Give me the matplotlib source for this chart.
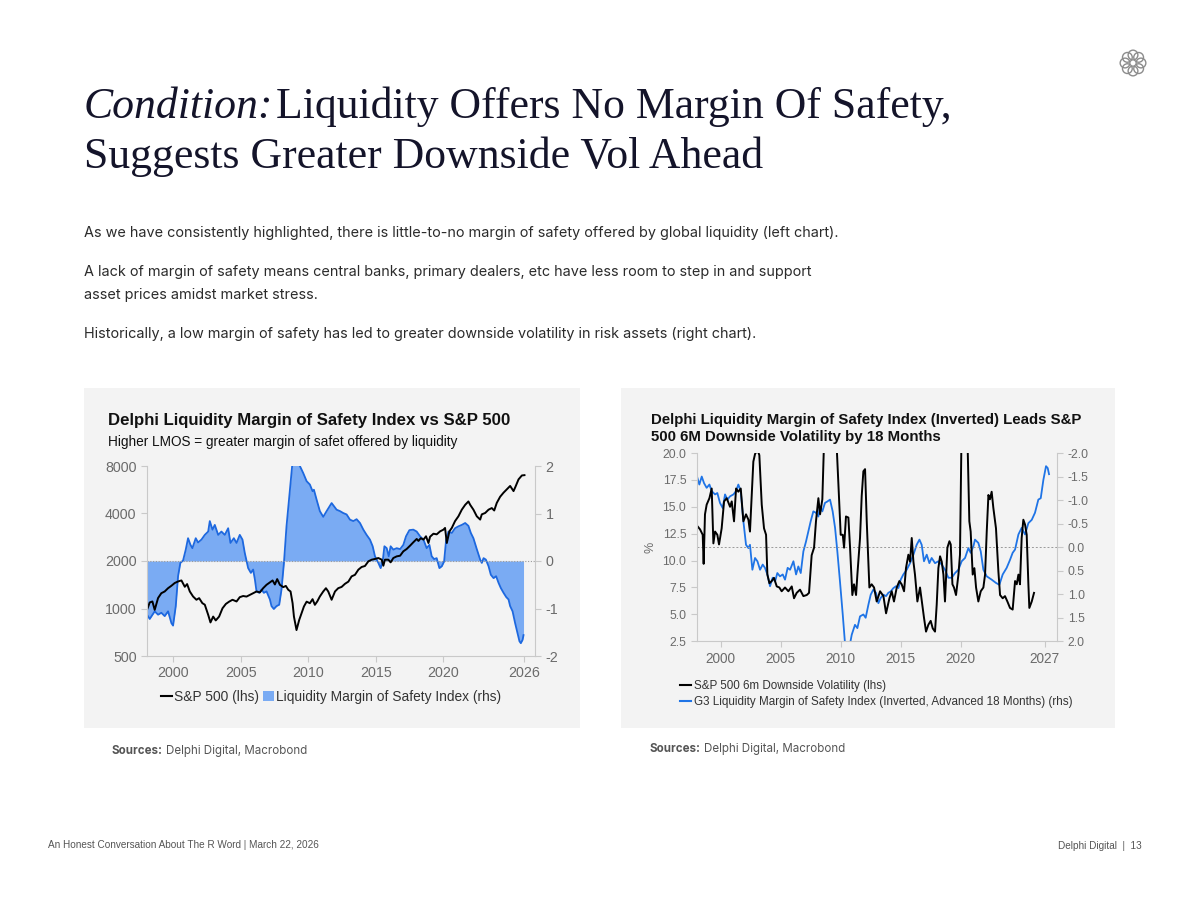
import math
import matplotlib
matplotlib.use("Agg")
import matplotlib.pyplot as plt
import matplotlib.patches as patches
from matplotlib.lines import Line2D
from matplotlib.ticker import FixedLocator, NullLocator

# ---- left chart: S&P 500 (lhs, log) and Liquidity Margin of Safety (rhs)
sp_years = [1998.07, 1998.27, 1998.47, 1998.64, 1998.89, 1999.13, 1999.38, 1999.63, 1999.88,
            2000.12, 2000.37, 2000.62, 2000.87, 2001.04, 2001.24, 2001.48, 2001.73, 2001.93,
            2002.17, 2002.35, 2002.60, 2002.77, 2002.97, 2003.16, 2003.41, 2003.66, 2003.91,
            2004.15, 2004.40, 2004.70, 2004.94, 2005.19, 2005.44, 2005.68, 2005.93, 2006.18,
            2006.43, 2006.67, 2006.92, 2007.17, 2007.37, 2007.54, 2007.71, 2007.91, 2008.16,
            2008.35, 2008.53, 2008.70, 2008.85, 2008.95, 2009.14, 2009.34, 2009.52, 2009.69,
            2009.89, 2010.13, 2010.33, 2010.50, 2010.68, 2010.87, 2011.12, 2011.32, 2011.49,
            2011.74, 2011.99, 2012.23, 2012.48, 2012.73, 2012.98, 2013.22, 2013.47, 2013.72,
            2013.96, 2014.21, 2014.46, 2014.71, 2014.95, 2015.20, 2015.45, 2015.57, 2015.69,
            2015.94, 2016.11, 2016.31, 2016.56, 2016.81, 2017.05, 2017.30, 2017.55, 2017.79,
            2018.04, 2018.17, 2018.34, 2018.54, 2018.73, 2018.91, 2019.03, 2019.28, 2019.52,
            2019.77, 2020.02, 2020.14, 2020.27, 2020.46, 2020.64, 2020.88, 2021.13, 2021.38,
            2021.63, 2021.87, 2022.00, 2022.24, 2022.49, 2022.74, 2022.86, 2023.11, 2023.36,
            2023.60, 2023.78, 2023.97, 2024.22, 2024.47, 2024.71, 2024.96, 2025.21, 2025.35,
            2025.58, 2025.83, 2026.02]
sp_values = [980, 1092, 1108, 980, 1165, 1250, 1282, 1345, 1394,
             1450, 1484, 1506, 1373, 1428, 1282, 1192, 1136, 1163,
             1081, 1057, 912, 816, 889, 840, 889, 1003, 1069,
             1105, 1136, 1108, 1180, 1200, 1190, 1220, 1250, 1282,
             1265, 1345, 1413, 1464, 1506, 1420, 1536, 1413, 1366,
             1390, 1314, 1282, 1081, 889, 730, 846, 935, 1030,
             1105, 1080, 1146, 1055, 1110, 1192, 1282, 1345, 1282,
             1136, 1282, 1345, 1370, 1434, 1480, 1598, 1635, 1762,
             1832, 1860, 1990, 2039, 2060, 2089, 2039, 1867, 2039,
             2039, 1961, 2089, 2140, 2160, 2303, 2384, 2502, 2628,
             2759, 2680, 2790, 2733, 2869, 2600, 2850, 2979, 2950,
             3082, 3160, 3240, 2600, 3082, 3240, 3580, 3840, 4230,
             4540, 4770, 4540, 4230, 3840, 3660, 3950, 4030, 4230,
             4330, 4180, 4670, 5110, 5420, 5690, 5980, 5546, 5900,
             6580, 6970, 7000]

lmos_years = [1998.07, 1998.27, 1998.64, 1998.89, 1999.13, 1999.38, 1999.63, 1999.88, 2000.00,
              2000.20, 2000.37, 2000.54, 2000.74, 2000.94, 2001.11, 2001.29, 2001.43, 2001.68,
              2001.85, 2002.10, 2002.35, 2002.60, 2002.72, 2002.92, 2003.09, 2003.34, 2003.58,
              2003.83, 2004.08, 2004.25, 2004.50, 2004.70, 2004.94, 2005.14, 2005.31, 2005.56,
              2005.76, 2005.93, 2006.06, 2006.18, 2006.38, 2006.55, 2006.72, 2006.92, 2007.17,
              2007.29, 2007.46, 2007.66, 2007.86, 2008.03, 2008.21, 2008.40, 2008.65, 2008.85,
              2009.14, 2009.39, 2009.64, 2009.89, 2010.13, 2010.33, 2010.43, 2010.63, 2010.87,
              2011.12, 2011.37, 2011.74, 2012.11, 2012.36, 2012.60, 2012.85, 2013.10, 2013.35,
              2013.59, 2013.84, 2014.09, 2014.33, 2014.58, 2014.78, 2014.95, 2015.20, 2015.37,
              2015.52, 2015.65, 2015.82, 2015.97, 2016.11, 2016.31, 2016.56, 2016.81, 2017.05,
              2017.25, 2017.50, 2017.79, 2018.04, 2018.29, 2018.54, 2018.78, 2018.98, 2019.15,
              2019.33, 2019.52, 2019.72, 2019.90, 2020.07, 2020.22, 2020.39, 2020.64, 2020.88,
              2021.13, 2021.38, 2021.63, 2021.87, 2022.05, 2022.24, 2022.49, 2022.74, 2022.86,
              2022.99, 2023.16, 2023.36, 2023.53, 2023.73, 2023.92, 2024.10, 2024.27, 2024.47,
              2024.67, 2024.84, 2024.96, 2025.14, 2025.33, 2025.51, 2025.65, 2025.75, 2025.88,
              2025.95]
lmos_values = [-1.13, -1.22, -1.06, -1.13, -1.09, -1.16, -1.06, -1.31, -1.36,
               -0.95, -0.32, -0.04, 0.01, 0.24, 0.48, 0.34, 0.27, 0.48,
               0.39, 0.45, 0.55, 0.62, 0.84, 0.66, 0.76, 0.55, 0.62,
               0.55, 0.69, 0.38, 0.48, 0.38, 0.55, 0.45, 0.17, -0.15,
               -0.25, -0.18, -0.39, -0.64, -0.67, -0.60, -0.67, -0.64, -0.81,
               -0.95, -1.01, -0.95, -0.92, -0.60, -0.04, 0.73, 1.50, 2.10,
               2.30, 2.00, 1.85, 1.68, 1.61, 1.47, 1.50, 1.29, 1.05,
               0.93, 1.05, 1.22, 1.08, 1.05, 1.01, 0.98, 0.87, 0.84,
               0.88, 0.80, 0.66, 0.55, 0.45, 0.31, 0.10, -0.04, -0.15,
               -0.01, 0.31, 0.27, 0.10, 0.31, 0.24, 0.27, 0.25, 0.34,
               0.52, 0.65, 0.66, 0.62, 0.52, 0.45, 0.27, 0.34, 0.10,
               0.04, 0.06, -0.15, -0.11, -0.01, 0.45, 0.62, 0.59, 0.69,
               0.73, 0.76, 0.80, 0.74, 0.59, 0.48, 0.25, 0.03, -0.04,
               0.06, 0.03, -0.11, -0.29, -0.36, -0.32, -0.46, -0.57, -0.67,
               -0.76, -0.81, -0.95, -1.06, -1.31, -1.52, -1.69, -1.73, -1.66,
               -1.56]

# ---- right chart: S&P 500 6m downside vol (lhs) and G3 LMOS inverted, advanced 18m (rhs)
vol_years = [1998.06, 1998.28, 1998.50, 1998.58, 1998.69, 1998.83, 1999.06, 1999.25, 1999.39,
             1999.53, 1999.72, 1999.86, 2000.08, 2000.28, 2000.50, 2000.78, 2000.92, 2001.11,
             2001.28, 2001.47, 2001.67, 2001.89, 2002.11, 2002.31, 2002.44, 2002.72, 2002.86,
             2003.06, 2003.22, 2003.42, 2003.61, 2003.78, 2003.89, 2004.06, 2004.25, 2004.44,
             2004.67, 2004.89, 2005.08, 2005.36, 2005.64, 2005.92, 2006.11, 2006.33, 2006.61,
             2006.89, 2007.17, 2007.36, 2007.58, 2007.78, 2007.94, 2008.14, 2008.28, 2008.47,
             2008.61, 2008.80, 2009.10, 2009.40, 2009.67, 2009.81, 2010.00, 2010.17, 2010.28,
             2010.44, 2010.64, 2010.78, 2010.97, 2011.11, 2011.28, 2011.39, 2011.61, 2011.75,
             2011.89, 2012.03, 2012.17, 2012.31, 2012.39, 2012.58, 2012.78, 2013.00, 2013.28,
             2013.56, 2013.78, 2014.06, 2014.25, 2014.44, 2014.67, 2014.89, 2015.08, 2015.28,
             2015.44, 2015.64, 2015.78, 2015.92, 2016.06, 2016.19, 2016.39, 2016.61, 2016.83,
             2016.94, 2017.11, 2017.31, 2017.50, 2017.67, 2017.86, 2018.00, 2018.14, 2018.28,
             2018.42, 2018.56, 2018.69, 2018.89, 2019.06, 2019.17, 2019.31, 2019.44, 2019.61,
             2019.81, 2019.94, 2020.06, 2020.30, 2020.58, 2020.72, 2020.83, 2021.00, 2021.14,
             2021.28, 2021.47, 2021.67, 2021.89, 2022.03, 2022.17, 2022.31, 2022.44, 2022.58,
             2022.72, 2022.94, 2023.14, 2023.28, 2023.50, 2023.69, 2023.89, 2024.11, 2024.33,
             2024.53, 2024.67, 2024.81, 2024.94, 2025.08, 2025.22, 2025.36, 2025.50, 2025.64,
             2025.72, 2025.92, 2026.11]
vol_values = [13.2, 12.9, 12.4, 9.7, 14.3, 15.2, 15.8, 16.7, 11.6,
              12.7, 12.4, 11.5, 13.0, 15.5, 15.8, 15.0, 15.5, 13.65,
              16.7, 16.4, 16.7, 13.65, 14.3, 13.8, 12.7, 19.2, 19.9,
              20.3, 19.8, 15.2, 13.0, 12.4, 8.7, 7.9, 8.1, 8.4,
              7.6, 7.5, 7.15, 7.5, 7.15, 7.6, 6.5, 7.0, 7.3,
              6.7, 6.8, 7.0, 10.5, 11.2, 13.65, 15.8, 14.3, 15.7,
              21.0, 30.0, 34.0, 26.0, 20.5, 17.1, 12.4, 12.4, 11.2,
              14.1, 14.0, 11.2, 6.8, 7.8, 6.8, 8.7, 12.1, 16.0,
              18.3, 18.5, 13.65, 9.6, 7.5, 7.8, 7.5, 6.2, 7.15,
              6.7, 5.1, 6.5, 7.15, 6.2, 7.5, 8.1, 7.8, 7.15,
              9.3, 10.55, 9.9, 12.1, 9.9, 8.7, 6.2, 7.5, 5.6,
              4.7, 3.4, 4.05, 4.4, 3.7, 3.4, 5.9, 9.3, 10.4,
              9.9, 8.7, 6.2, 11.2, 11.8, 11.5, 7.8, 7.5, 6.8,
              8.7, 10.55, 21.0, 40.0, 20.5, 13.65, 12.7, 8.7, 9.3,
              7.5, 6.2, 7.15, 7.5, 8.7, 12.7, 16.1, 15.7, 16.4,
              14.9, 13.0, 9.0, 6.8, 6.5, 6.7, 6.2, 5.6, 5.45,
              8.1, 7.8, 8.7, 7.8, 12.1, 13.8, 13.35, 12.4, 7.8,
              5.6, 6.2, 7.0]

g3_years = [1998.06, 1998.22, 1998.42, 1998.61, 1998.83, 1999.06, 1999.25, 1999.53, 1999.72,
            1999.94, 2000.17, 2000.36, 2000.56, 2000.78, 2001.06, 2001.28, 2001.47, 2001.67,
            2001.89, 2002.11, 2002.31, 2002.44, 2002.64, 2002.86, 2003.06, 2003.28, 2003.50,
            2003.69, 2003.89, 2004.11, 2004.33, 2004.53, 2004.72, 2004.94, 2005.17, 2005.36,
            2005.58, 2005.78, 2006.06, 2006.28, 2006.47, 2006.67, 2006.89, 2007.11, 2007.31,
            2007.50, 2007.72, 2007.94, 2008.14, 2008.28, 2008.47, 2008.69, 2008.89, 2009.11,
            2009.33, 2009.53, 2009.72, 2009.94, 2010.17, 2010.36, 2010.58, 2010.78, 2010.92,
            2011.19, 2011.39, 2011.61, 2011.89, 2012.08, 2012.31, 2012.50, 2012.72, 2012.94,
            2013.14, 2013.33, 2013.56, 2013.78, 2013.97, 2014.17, 2014.39, 2014.61, 2014.81,
            2015.00, 2015.22, 2015.50, 2015.78, 2016.06, 2016.33, 2016.56, 2016.75, 2016.94,
            2017.17, 2017.39, 2017.58, 2017.86, 2018.14, 2018.42, 2018.69, 2018.97, 2019.25,
            2019.53, 2019.81, 2020.08, 2020.36, 2020.64, 2020.83, 2021.06, 2021.19, 2021.47,
            2021.67, 2021.89, 2022.17, 2022.58, 2022.94, 2023.22, 2023.50, 2023.83, 2024.11,
            2024.33, 2024.53, 2024.81, 2025.08, 2025.36, 2025.64, 2025.92, 2026.19, 2026.47,
            2026.67, 2026.89, 2027.11, 2027.25, 2027.36]
g3_values = [-1.47, -1.33, -1.50, -1.36, -1.26, -1.33, -1.19, -1.12, -1.15,
             -0.94, -0.83, -1.12, -1.01, -1.08, -1.12, -1.19, -1.33, -1.19,
             -0.55, -0.05, 0.02, -0.05, 0.48, 0.23, 0.30, 0.48, 0.37,
             0.44, 0.58, 0.83, 0.65, 0.73, 0.55, 0.62, 0.58, 0.69,
             0.44, 0.48, 0.30, 0.58, 0.41, 0.55, 0.09, -0.12, -0.34,
             -0.55, -0.76, -0.73, -0.65, -0.87, -0.76, -0.94, -0.97, -1.01,
             -0.76, -0.41, 0.09, 0.73, 1.43, 2.05, 2.30, 2.05, 1.86,
             1.65, 1.72, 1.47, 1.43, 1.50, 1.22, 1.01, 0.90, 0.97,
             1.19, 1.08, 1.01, 1.04, 0.97, 0.94, 0.87, 0.83, 0.87,
             0.69, 0.58, 0.48, 0.34, 0.16, -0.05, -0.16, -0.05, 0.30,
             0.16, 0.34, 0.23, 0.34, 0.30, 0.37, 0.48, 0.65, 0.65,
             0.55, 0.48, 0.30, 0.23, 0.02, 0.12, -0.02, -0.16, -0.09,
             0.09, 0.48, 0.62, 0.69, 0.76, 0.80, 0.58, 0.44, 0.27,
             0.12, 0.05, -0.27, -0.41, -0.27, -0.51, -0.58, -0.73, -1.01,
             -1.04, -1.43, -1.72, -1.68, -1.55]

left_xticks = [2000, 2005, 2010, 2015, 2020, 2026]
left_yticks = [500, 1000, 2000, 4000, 8000]
left_rticks = [-2, -1, 0, 1, 2]
right_xticks = [2000, 2005, 2010, 2015, 2020, 2027]
right_yticks = [2.5, 5.0, 7.5, 10.0, 12.5, 15.0, 17.5, 20.0]
right_rticks = [-2.0, -1.5, -1.0, -0.5, 0.0, 0.5, 1.0, 1.5, 2.0]

W, H = 1200, 900
NAVY = "#14142a"
BODY = "#2b2b2b"
TICK = "#6b6b6b"
SPINE = "#c9c9c9"
PANEL = "#f3f3f3"
FILL = "#7aabf3"
BLUE_EDGE = "#1d68df"
BLUE = "#1f74e6"
SANS = ["Liberation Sans", "DejaVu Sans"]
BODYF = ["Inter", "DejaVu Sans"]


def fx(x):
    return x / W


def fy(y):
    return 1 - y / H


fig = plt.figure(figsize=(12, 9), dpi=100)
fig.patch.set_facecolor("white")
renderer = fig.canvas.get_renderer()

# ---- headline
t1 = fig.text(fx(84), fy(118), "Condition:", family=["Liberation Serif"], style="italic",
              fontsize=31.5, color=NAVY, va="baseline")
bb = t1.get_window_extent(renderer)
fig.text(fx(bb.x1 + 3), fy(118), "Liquidity Offers No Margin Of Safety,",
         family=["Liberation Serif"], fontsize=31.5, color=NAVY, va="baseline")
fig.text(fx(84), fy(168), "Suggests Greater Downside Vol Ahead",
         family=["Liberation Serif"], fontsize=31.5, color=NAVY, va="baseline")

# ---- body copy
body_lines = [
    (233, "As we have consistently highlighted, there is little-to-no margin of safety offered by global liquidity (left chart)."),
    (272, "A lack of margin of safety means central banks, primary dealers, etc have less room to step in and support"),
    (295, "asset prices amidst market stress."),
    (334, "Historically, a low margin of safety has led to greater downside volatility in risk assets (right chart)."),
]
for y, s in body_lines:
    fig.text(fx(84), fy(y), s, family=BODYF, fontsize=10.4, color=BODY, va="center")

# ---- logo (ring of loops)
lax = fig.add_axes([fx(1118), fy(78), 30 / W, 30 / H])
lax.set_aspect("equal")
lax.axis("off")
lax.set_xlim(-1.6, 1.6)
lax.set_ylim(-1.6, 1.6)
for k in range(8):
    ang = k * math.pi / 4
    cx, cy = 0.85 * math.cos(ang), 0.85 * math.sin(ang)
    lax.add_patch(patches.Circle((cx, cy), 0.52, fill=False, edgecolor="#8c8c8c", lw=1.0))

# ---- chart panels
for x0, x1 in [(84, 580), (621, 1115)]:
    fig.add_artist(patches.Rectangle((fx(x0), fy(728)), (x1 - x0) / W, 340 / H,
                                     transform=fig.transFigure, facecolor=PANEL,
                                     edgecolor="none", zorder=0))

# ======== left chart
fig.text(fx(108), fy(420), "Delphi Liquidity Margin of Safety Index vs S&P 500",
         family=SANS, fontsize=12.1, fontweight="bold", color="#111111", va="center")
fig.text(fx(108), fy(442), "Higher LMOS = greater margin of safet offered by liquidity",
         family=SANS, fontsize=9.8, color="#111111", va="center")

axL = fig.add_axes([fx(147), fy(656), 388 / W, 190 / H])
axL2 = axL.twinx()
axL.set_zorder(axL2.get_zorder() + 1)
axL.patch.set_visible(False)
axL2.patch.set_visible(False)

axL2.fill_between(lmos_years, lmos_values, 0, color=FILL, lw=0)
axL2.plot(lmos_years, lmos_values, color=BLUE_EDGE, lw=1.3)
axL2.axhline(0, color="#9a9a9a", lw=0.8, ls=(0, (1, 1.5)))
axL2.set_ylim(-2, 2)
axL2.yaxis.set_major_locator(FixedLocator(left_rticks))
axL2.set_yticklabels([str(v) for v in left_rticks])

axL.plot(sp_years, sp_values, color="black", lw=1.4)
axL.set_yscale("log")
axL.set_ylim(500, 8000)
axL.yaxis.set_major_locator(FixedLocator(left_yticks))
axL.yaxis.set_minor_locator(NullLocator())
axL.set_yticklabels([str(v) for v in left_yticks])
axL.set_xlim(1998.07, 2026.8)
axL.xaxis.set_major_locator(FixedLocator(left_xticks))
axL.set_xticklabels([str(v) for v in left_xticks])

for a in (axL, axL2):
    for s in a.spines.values():
        s.set_visible(False)
    a.tick_params(colors=SPINE, labelcolor=TICK, labelsize=10.3, length=4, width=0.8)
    for lab in a.get_xticklabels() + a.get_yticklabels():
        lab.set_family(SANS)
axL.spines["left"].set_visible(True)
axL.spines["bottom"].set_visible(True)
axL2.spines["right"].set_visible(True)
for s in (axL.spines["left"], axL.spines["bottom"], axL2.spines["right"]):
    s.set_color(SPINE)
    s.set_linewidth(0.8)

fig.legend(handles=[Line2D([], [], color="black", lw=1.5),
                    patches.Patch(facecolor=FILL, edgecolor="none")],
           labels=["S&P 500 (lhs)", "Liquidity Margin of Safety Index (rhs)"],
           loc="center", bbox_to_anchor=(fx(331), fy(697)), ncol=2, frameon=False,
           handlelength=0.8, handleheight=0.7, handletextpad=0.15, columnspacing=0.3,
           prop={"family": SANS, "size": 9.9}, labelcolor="#333333")

# ======== right chart
fig.text(fx(651), fy(420), "Delphi Liquidity Margin of Safety Index (Inverted) Leads S&P",
         family=SANS, fontsize=10.8, fontweight="bold", color="#111111", va="center")
fig.text(fx(651), fy(437), "500 6M Downside Volatility by 18 Months",
         family=SANS, fontsize=10.8, fontweight="bold", color="#111111", va="center")

axR = fig.add_axes([fx(696.7), fy(641.3), 360.6 / W, 188.3 / H])
axR2 = axR.twinx()
axR.set_zorder(axR2.get_zorder() + 1)
axR.patch.set_visible(False)
axR2.patch.set_visible(False)

axR2.plot(g3_years, g3_values, color=BLUE, lw=1.3)
axR2.axhline(0, color="#9a9a9a", lw=0.7, ls=(0, (2, 2)))
axR2.set_ylim(2, -2)
axR2.yaxis.set_major_locator(FixedLocator(right_rticks))
axR2.set_yticklabels([f"{v:.1f}" for v in right_rticks])

axR.plot(vol_years, vol_values, color="black", lw=1.4)
axR.set_ylim(2.5, 20)
axR.yaxis.set_major_locator(FixedLocator(right_yticks))
axR.set_yticklabels([f"{v:.1f}" for v in right_yticks])
axR.set_xlim(1998.0, 2028.05)
axR.xaxis.set_major_locator(FixedLocator(right_xticks))
axR.set_xticklabels([str(v) for v in right_xticks])
axR.set_ylabel("%", family=SANS, fontsize=9, color=TICK, labelpad=4)

for a in (axR, axR2):
    for s in a.spines.values():
        s.set_visible(False)
    a.tick_params(colors=SPINE, labelcolor=TICK, labelsize=8.8, length=4, width=0.8)
    for lab in a.get_xticklabels() + a.get_yticklabels():
        lab.set_family(SANS)
axR.tick_params(axis="x", labelsize=9.8)
axR.spines["left"].set_visible(True)
axR.spines["bottom"].set_visible(True)
axR2.spines["right"].set_visible(True)
for s in (axR.spines["left"], axR.spines["bottom"], axR2.spines["right"]):
    s.set_color(SPINE)
    s.set_linewidth(0.8)

fig.legend(handles=[Line2D([], [], color="black", lw=1.5), Line2D([], [], color=BLUE, lw=1.5)],
           labels=["S&P 500 6m Downside Volatility (lhs)",
                   "G3 Liquidity Margin of Safety Index (Inverted, Advanced 18 Months) (rhs)"],
           loc="upper left", bbox_to_anchor=(fx(672), fy(672)), ncol=1, frameon=False,
           handlelength=0.9, handletextpad=0.25, labelspacing=0.35, borderpad=0.2,
           prop={"family": SANS, "size": 8.4}, labelcolor="#333333")

# ---- sources
for x, y in [(112, 751), (650, 749)]:
    s1 = fig.text(fx(x), fy(y), "Sources:", family=BODYF, fontsize=8.3, fontweight="bold",
                  color="#555555", va="center")
    b = s1.get_window_extent(renderer)
    fig.text(fx(b.x1 + 3), fy(y), "Delphi Digital, Macrobond", family=BODYF, fontsize=8.3,
             color="#555555", va="center")

# ---- footer
fig.text(fx(48), fy(845), "An Honest Conversation About The R Word | March 22, 2026",
         family=["Liberation Sans Narrow", "Liberation Sans"], fontsize=7.2, color="#555555",
         va="center")
fig.text(fx(1142), fy(846), "Delphi Digital  |  13",
         family=["Liberation Sans Narrow", "Liberation Sans"], fontsize=7.2, color="#555555",
         va="center", ha="right")

fig.savefig("out.png", dpi=100, facecolor="white")
